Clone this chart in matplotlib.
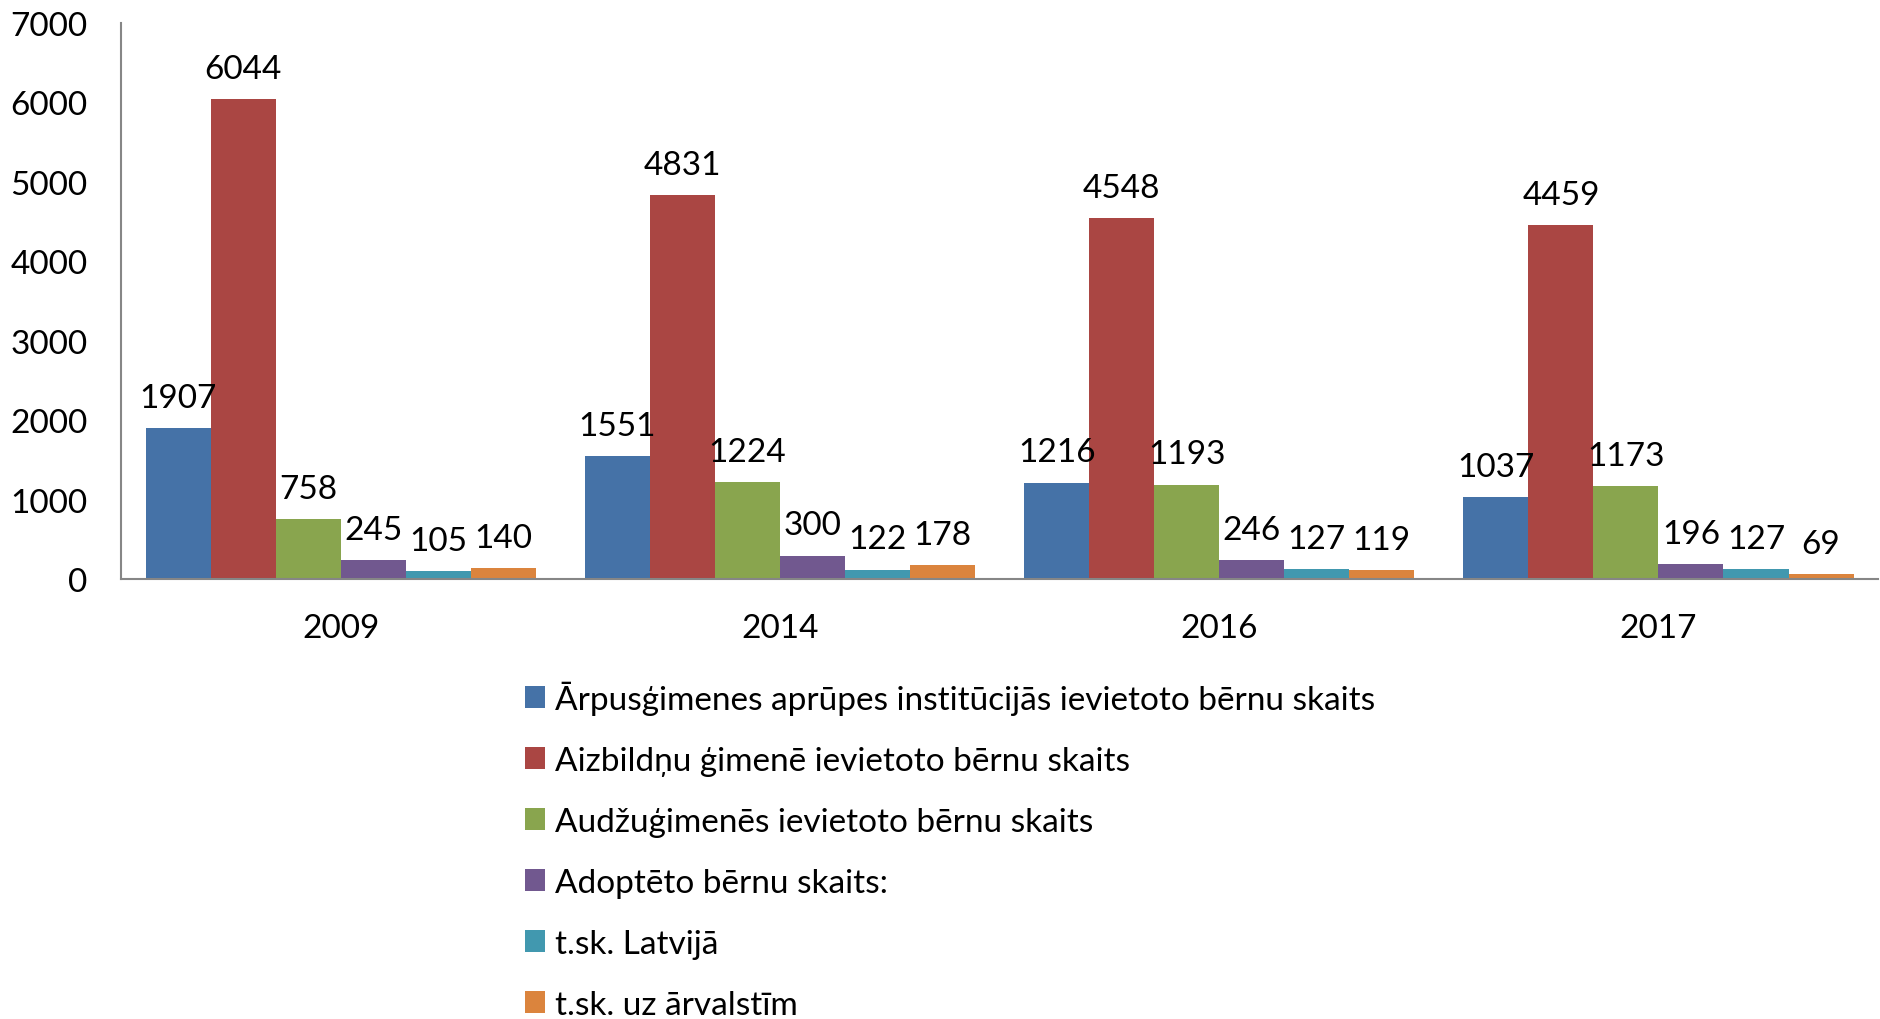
import matplotlib.pyplot as plt
import numpy as np

plt.rcParams['font.family'] = ['Lato', 'DejaVu Sans']

# data
years = ['2009', '2014', '2016', '2017']
series_names = [
    'Ārpusģimenes aprūpes institūcijās ievietoto bērnu skaits',
    'Aizbildņu ģimenē ievietoto bērnu skaits',
    'Audžuģimenēs ievietoto bērnu skaits',
    'Adoptēto bērnu skaits:',
    't.sk. Latvijā',
    't.sk. uz ārvalstīm',
]
institucijas = [1907, 1551, 1216, 1037]
aizbildni = [6044, 4831, 4548, 4459]
audzugimenes = [758, 1224, 1193, 1173]
adopteti = [245, 300, 246, 196]
latvija = [105, 122, 127, 127]
arvalstis = [140, 178, 119, 69]

series = [institucijas, aizbildni, audzugimenes, adopteti, latvija, arvalstis]
colors = ['#4572A7', '#AA4643', '#89A54E', '#71588F', '#4198AF', '#DB843D']

fig = plt.figure(figsize=(18.8, 10.2), dpi=100)
ax = fig.add_axes([0.0644, 0.431, 0.9346, 0.5455])

x = np.arange(len(years))
w = 0.148
handles = []
for i, (vals, c) in enumerate(zip(series, colors)):
    offs = (i - 2.5) * w
    bars = ax.bar(x + offs, vals, width=w, color=c, label=series_names[i])
    ax.bar_label(bars, fontsize=24, padding=11)
    handles.append(bars)

ax.set_xlim(-0.5, len(years) - 0.5)
ax.set_ylim(0, 7000)
ax.set_yticks(range(0, 7001, 1000))
ax.set_xticks(x)
ax.set_xticklabels(years)
ax.tick_params(axis='both', length=0, labelsize=24)
ax.tick_params(axis='x', pad=24)
ax.tick_params(axis='y', pad=24)

for s in ['top', 'right']:
    ax.spines[s].set_visible(False)
for s in ['left', 'bottom']:
    ax.spines[s].set_color('#868686')
    ax.spines[s].set_linewidth(1.5)

fig.legend(handles=handles, loc='upper left', bbox_to_anchor=(0.272, 0.345),
           frameon=False, fontsize=24, handlelength=0.6, handleheight=0.6,
           handletextpad=0.3, labelspacing=0.93, borderaxespad=0)

fig.savefig('out.png', dpi=100)
